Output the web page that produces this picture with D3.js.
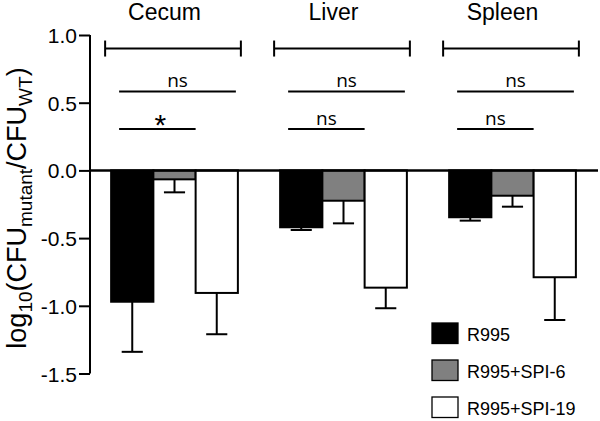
<!DOCTYPE html>
<html>
<head>
<meta charset="utf-8">
<script src="https://cdn.jsdelivr.net/npm/d3@7"></script>
<style>
  body { margin: 0; background: #fff; }
  svg { display: block; }
  text { font-family: "Liberation Sans", Arial, sans-serif; fill: #000; }
</style>
</head>
<body>
<div class="container"></div>
<script>
// data
const groups = ["Cecum", "Liver", "Spleen"]
const strains = ["R995", "R995+SPI-6", "R995+SPI-19"]
const strainFill = ["#000000", "#808080", "#ffffff"]

// mean log10 ratio per group (Cecum, Liver, Spleen)
const meanR995 = [-0.97, -0.42, -0.346]
const meanSPI6 = [-0.066, -0.224, -0.187]
const meanSPI19 = [-0.905, -0.866, -0.789]
// error (one sided, downward)
const errR995 = [0.37, 0.02, 0.025]
const errSPI6 = [0.096, 0.167, 0.081]
const errSPI19 = [0.305, 0.152, 0.316]

const yTicks = [1.0, 0.5, 0.0, -0.5, -1.0, -1.5]

// significance labels: R995 vs SPI-19 (upper) and R995 vs SPI-6 (lower)
const upperLabels = ["ns", "ns", "ns"]
const lowerLabels = ["*", "ns", "ns"]

const means = [meanR995, meanSPI6, meanSPI19]
const errs = [errR995, errSPI6, errSPI19]
const rows = []
groups.forEach((g, gi) => {
  strains.forEach((s, si) => {
    rows.push({ group: g, strain: s, fill: strainFill[si], mean: means[si][gi], err: errs[si][gi] })
  })
})

const w = 600
const h = 421
const left = 90
const right = 597

const svg = d3.select('.container')
  .append('svg')
  .attr('width', w)
  .attr('height', h)

const y = d3.scaleLinear()
  .domain([-1.5, 1.0])
  .range([373.5, 35])

const x0 = d3.scaleBand()
  .domain(groups)
  .range([left, right])
  .paddingInner(0.25)
  .paddingOuter(0.125)

const x1 = d3.scaleBand()
  .domain(strains)
  .range([0, x0.bandwidth()])

// bars
svg.append('g')
  .selectAll('rect')
  .data(rows)
  .enter()
  .append('rect')
  .attr('x', d => x0(d.group) + x1(d.strain))
  .attr('y', y(0))
  .attr('width', x1.bandwidth())
  .attr('height', d => y(d.mean) - y(0))
  .attr('fill', d => d.fill)
  .attr('stroke', '#000')
  .attr('stroke-width', 2)

// error bars
const eb = svg.append('g')
  .attr('stroke', '#000')
  .attr('stroke-width', 2)
  .selectAll('g')
  .data(rows)
  .enter()
  .append('g')
  .attr('transform', d => 'translate(' + (x0(d.group) + x1(d.strain) + x1.bandwidth() / 2) + ',0)')

eb.append('line')
  .attr('x1', 0).attr('x2', 0)
  .attr('y1', d => y(d.mean))
  .attr('y2', d => y(d.mean - d.err))

eb.append('line')
  .attr('x1', -x1.bandwidth() / 4).attr('x2', x1.bandwidth() / 4)
  .attr('y1', d => y(d.mean - d.err))
  .attr('y2', d => y(d.mean - d.err))

// zero line
svg.append('line')
  .attr('x1', left).attr('x2', right + 1)
  .attr('y1', y(0)).attr('y2', y(0))
  .attr('stroke', '#000')
  .attr('stroke-width', 2.5)

// y axis
const yAxis = d3.axisLeft(y)
  .tickValues(yTicks)
  .tickSize(11)
  .tickPadding(2)
  .tickFormat(d3.format('.1f'))

const ya = svg.append('g')
  .attr('transform', 'translate(' + left + ',0)')
  .call(yAxis)
ya.select('.domain').attr('stroke-width', 2).attr('d', 'M0,' + y(1.0) + 'V' + y(-1.5))
ya.selectAll('.tick line').attr('stroke-width', 2)
ya.selectAll('.tick text')
  .style('font-family', '"Liberation Sans", Arial, sans-serif')
  .style('font-size', '21px')
  .attr('dy', '0.36em')
  .text(d => d3.format('.1f')(d).replace('\u2212', '-'))

// y axis title
const title = svg.append('text')
  .attr('transform', 'translate(26,208) rotate(-90)')
  .attr('text-anchor', 'middle')
  .style('font-size', '27px')
title.append('tspan').text('log')
title.append('tspan').attr('dy', 6).style('font-size', '19px').text('10')
title.append('tspan').attr('dy', -6).text('(CFU')
title.append('tspan').attr('dy', 6).style('font-size', '19px').text('mutant')
title.append('tspan').attr('dy', -6).text('/CFU')
title.append('tspan').attr('dy', 6).style('font-size', '19px').text('WT')
title.append('tspan').attr('dy', -6).text(')')

// group labels
svg.append('g')
  .selectAll('text')
  .data(groups)
  .enter()
  .append('text')
  .attr('x', d => x0(d) + x0.bandwidth() / 2 - 10)
  .attr('y', 19.5)
  .attr('text-anchor', 'middle')
  .style('font-size', '23px')
  .text(d => d)

// brackets above each group
const bracketY = y(0.9)
const br = svg.append('g')
  .attr('stroke', '#000')
  .attr('stroke-width', 2)
  .selectAll('g')
  .data(groups)
  .enter()
  .append('g')
br.append('line')
  .attr('x1', d => x0(d) - 6).attr('x2', d => x0(d) + x0.bandwidth() + 3)
  .attr('y1', bracketY).attr('y2', bracketY)
br.append('line')
  .attr('x1', d => x0(d) - 6).attr('x2', d => x0(d) - 6)
  .attr('y1', bracketY - 8).attr('y2', bracketY + 8)
br.append('line')
  .attr('x1', d => x0(d) + x0.bandwidth() + 3).attr('x2', d => x0(d) + x0.bandwidth() + 3)
  .attr('y1', bracketY - 8).attr('y2', bracketY + 8)

// comparison lines
const comps = []
groups.forEach((g, gi) => {
  comps.push({ group: g, to: strains[2], level: 0.582, label: upperLabels[gi], endPad: -2 })
  comps.push({ group: g, to: strains[1], level: 0.305, label: lowerLabels[gi], endPad: 0 })
})

const cg = svg.append('g')
  .selectAll('g')
  .data(comps)
  .enter()
  .append('g')

const cx1 = d => x0(d.group) + x1(strains[0]) + 8
const cx2 = d => x0(d.group) + x1(d.to) + x1.bandwidth() + d.endPad

cg.append('line')
  .attr('x1', cx1).attr('x2', cx2)
  .attr('y1', d => y(d.level)).attr('y2', d => y(d.level))
  .attr('stroke', '#000')
  .attr('stroke-width', 2)

cg.append('text')
  .attr('x', d => (cx1(d) + cx2(d)) / 2 + (d.label === '*' ? 3 : 0))
  .attr('y', d => d.label === '*' ? y(d.level) + 6 : y(d.level) - 4.5)
  .attr('text-anchor', 'middle')
  .style('font-family', d => d.label === '*' ? '"Liberation Sans", Arial, sans-serif' : '"Open Sans", sans-serif')
  .style('font-size', d => d.label === '*' ? '30px' : '19px')
  .text(d => d.label)

// legend
const legend = svg.append('g')
  .attr('transform', 'translate(432,323)')
const li = legend.selectAll('g')
  .data(strains)
  .enter()
  .append('g')
  .attr('transform', (d, i) => 'translate(0,' + i * 37 + ')')
li.append('rect')
  .attr('width', 26)
  .attr('height', 20.5)
  .attr('fill', (d, i) => strainFill[i])
  .attr('stroke', '#000')
  .attr('stroke-width', 1.3)
li.append('text')
  .attr('x', 35)
  .attr('y', 17.5)
  .style('font-size', '18px')
  .text(d => d)
</script>
</body>
</html>
